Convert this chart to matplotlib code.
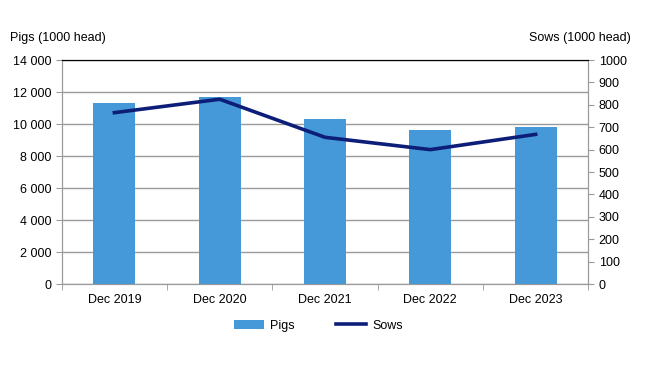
import matplotlib.pyplot as plt
import numpy as np

# values
periods = ["Dec 2019", "Dec 2020", "Dec 2021", "Dec 2022", "Dec 2023"]
pigs = [11300, 11700, 10300, 9620, 9800]
sows = [765, 825, 655, 600, 668]

pig_ticks = [0, 2000, 4000, 6000, 8000, 10000, 12000, 14000]
pig_tick_labels = ["0", "2 000", "4 000", "6 000", "8 000", "10 000", "12 000", "14 000"]
sow_ticks = list(range(0, 1001, 100))

bar_color = "#4599d8"
line_color = "#0c1e78"
grid_color = "#9a9a9a"

plt.rcParams["font.family"] = ["Liberation Sans", "DejaVu Sans"]

fig = plt.figure(figsize=(6.5, 3.66), dpi=100)
ax = fig.add_axes([0.095, 0.224, 0.81, 0.612])
ax2 = ax.twinx()

x = np.arange(len(periods))
ax.bar(x, pigs, width=0.4, color=bar_color, label="Pigs", zorder=3)
ax2.plot(x, sows, color=line_color, linewidth=2.6, label="Sows", zorder=4)

ax.set_xlim(-0.5, len(periods) - 0.5)
ax.set_ylim(0, 14000)
ax2.set_ylim(0, 1000)

ax.set_yticks(pig_ticks)
ax.set_yticklabels(pig_tick_labels)
ax2.set_yticks(sow_ticks)

ax.set_xticks(x)
ax.set_xticklabels(periods)
ax.set_xticks(np.arange(-0.5, len(periods)), minor=True)
ax.tick_params(axis="x", which="major", length=0, labelsize=9, pad=7)
ax.tick_params(axis="x", which="minor", length=4, color=grid_color)
ax.tick_params(axis="y", length=4, color=grid_color, labelsize=9)
ax2.tick_params(axis="y", length=4, color=grid_color, labelsize=9)

ax.yaxis.grid(True, color=grid_color, linewidth=1)
ax.set_axisbelow(True)

for a in (ax, ax2):
    for side in ("left", "right", "bottom"):
        a.spines[side].set_color(grid_color)
    a.spines["top"].set_color("black")

fig.text(0.015, 0.895, "Pigs (1000 head)", fontsize=9, ha="left", va="center")
fig.text(0.97, 0.895, "Sows (1000 head)", fontsize=9, ha="right", va="center")

h1, l1 = ax.get_legend_handles_labels()
h2, l2 = ax2.get_legend_handles_labels()
fig.legend(h1 + h2, l1 + l2, loc="center", bbox_to_anchor=(0.49, 0.11), ncol=2,
           frameon=False, fontsize=9, columnspacing=3.3, handlelength=2.4,
           handletextpad=0.5)

fig.savefig("out.png", dpi=100)
